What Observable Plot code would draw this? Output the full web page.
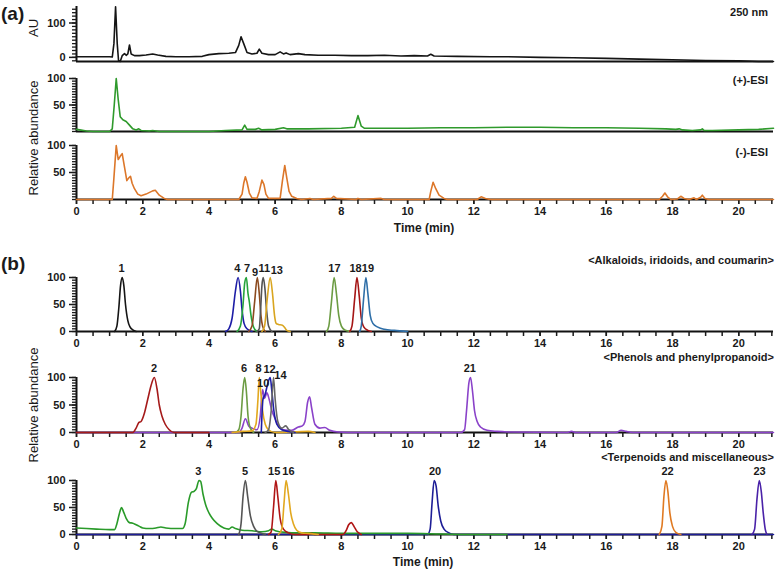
<!DOCTYPE html>
<html><head><meta charset="utf-8">
<script src="https://cdn.jsdelivr.net/npm/d3@7"></script>
<script src="https://cdn.jsdelivr.net/npm/@observablehq/plot@0.6"></script>
<style>
body{margin:0;background:#fff;}
#chart{position:relative;width:777px;height:570px;font-family:"Liberation Sans",Arial,sans-serif;color:#1a1a1a;overflow:hidden;}
#chart svg{position:absolute;left:0;}
.t{position:absolute;white-space:nowrap;line-height:1;}
</style></head><body><div id="chart"></div>
<script>
// ---------- data (time in min, intensity) ----------
const xTicks = [0,2,4,6,8,10,12,14,16,18,20];
const yTicksAU = [0,100];
const yTicksESI = [50,100];
const yTicksB = [0,50,100];

const uv250 = [[0,2],[0.5,2],[1.0,2],[1.08,1],[1.13,40],[1.18,147],[1.23,40],[1.27,-10],[1.32,-12],[1.38,5],[1.45,11],[1.5,6],[1.55,10],[1.6,36],[1.65,10],[1.75,5],[1.9,5],[2.1,7],[2.3,10],[2.45,7],[2.7,3],[3.0,2],[3.4,2],[3.8,3],[4.0,8],[4.3,11],[4.6,12],[4.8,14],[4.9,35],[4.97,60],[5.05,40],[5.15,14],[5.3,10],[5.45,12],[5.52,24],[5.6,12],[5.8,8],[6.0,8],[6.15,16],[6.25,10],[6.33,13],[6.45,8],[6.7,11],[6.9,8],[7.3,6],[7.8,6],[8.3,5],[8.8,5],[9.3,6],[9.8,4],[10.2,5],[10.6,4],[10.7,9],[10.8,4],[11.5,3],[12.5,2],[13,2],[14,0],[15,-1],[16,-3],[17,-5],[18,-7],[19,-9],[20,-10],[20.6,-12],[21.05,-12]];

const esiPos = [[0,4],[0.1,3],[0.3,1],[0.5,0],[1.0,0],[1.08,5],[1.14,50],[1.2,100],[1.26,60],[1.32,28],[1.4,22],[1.5,19],[1.6,12],[1.7,5],[1.8,3],[1.88,5],[1.95,2],[2.2,1],[2.3,2],[2.5,0],[4.0,0],[4.5,2],[5.0,3],[5.08,12],[5.15,4],[5.4,4],[5.5,6],[5.6,3],[6.0,4],[6.25,7],[6.35,5],[7,5],[8,6],[8.4,8],[8.5,30],[8.6,10],[8.7,6],[9,6],[10,6],[11,7],[12,7],[13,8],[14,8],[15,7],[16,7],[17,6],[17.8,5],[18.1,4],[18.2,5],[18.3,3],[18.6,2],[18.85,3],[18.9,5],[18.95,2],[19.2,2],[20,3],[20.6,4],[21.05,6]];

const esiNeg = [[0,0],[1.08,0],[1.13,40],[1.2,100],[1.26,74],[1.32,80],[1.38,85],[1.45,60],[1.52,35],[1.58,40],[1.63,43],[1.68,30],[1.75,20],[1.85,10],[1.95,7],[2.1,10],[2.3,16],[2.38,17],[2.5,8],[2.65,2],[2.75,0],[4.9,0],[5.0,10],[5.05,30],[5.1,42],[5.15,32],[5.22,12],[5.3,3],[5.45,2],[5.52,15],[5.6,36],[5.66,28],[5.72,10],[5.8,2],[6.15,2],[6.22,35],[6.29,63],[6.35,40],[6.42,15],[6.5,6],[6.65,2],[6.8,0],[7.05,2],[7.15,0],[7.7,2],[7.77,6],[7.85,2],[8.45,0],[8.5,2],[8.6,0],[9.2,2],[9.3,0],[10.65,0],[10.7,15],[10.77,32],[10.85,20],[10.95,8],[11.1,2],[11.2,0],[12.1,0],[12.22,5],[12.35,2],[12.5,0],[17.6,0],[17.7,6],[17.77,12],[17.85,5],[17.95,0],[18.15,1],[18.25,6],[18.35,2],[18.5,0],[18.65,3],[18.72,0],[18.85,4],[18.9,8],[18.98,2],[19.1,0],[21.05,0]];

// (b) Alkaloids, iridoids, and coumarin
const c1  = [[1.15,0],[1.22,10],[1.28,45],[1.33,85],[1.38,100],[1.43,85],[1.48,50],[1.55,20],[1.62,8],[1.7,3],[1.8,0]];
const c4  = [[4.5,0],[4.6,5],[4.7,25],[4.8,75],[4.88,100],[4.95,75],[5.0,40],[5.06,15],[5.15,5],[5.3,0]];
const c7  = [[4.85,0],[4.95,10],[5.03,50],[5.08,90],[5.13,100],[5.18,70],[5.22,55],[5.27,30],[5.35,8],[5.45,0]];
const c9  = [[5.2,0],[5.3,10],[5.38,55],[5.46,100],[5.52,70],[5.57,30],[5.62,10],[5.7,0]];
const c11 = [[5.45,0],[5.52,5],[5.56,40],[5.6,85],[5.64,100],[5.69,80],[5.74,40],[5.8,10],[5.9,0]];
const c13 = [[5.6,0],[5.68,10],[5.76,60],[5.85,100],[5.92,70],[5.98,30],[6.03,15],[6.1,13],[6.2,12],[6.28,8],[6.35,2],[6.45,0]];
const c17 = [[7.55,0],[7.62,10],[7.7,55],[7.78,100],[7.85,70],[7.92,30],[8.0,10],[8.1,3],[8.25,0]];
const c18 = [[8.25,0],[8.32,10],[8.4,60],[8.47,100],[8.54,65],[8.6,25],[8.68,8],[8.8,2],[8.9,0]];
const c19 = [[8.55,0],[8.6,10],[8.67,60],[8.74,100],[8.8,70],[8.87,30],[8.95,15],[9.1,8],[9.3,4],[9.6,2],[10,0]];

// (b) Phenols and phenylpropanoid
const c2  = [[0,0],[1.7,0],[1.8,8],[1.88,18],[1.95,20],[2.05,35],[2.15,60],[2.25,85],[2.35,100],[2.43,80],[2.5,50],[2.58,30],[2.68,15],[2.8,5],[2.95,0],[4,0]];
const c6  = [[4.8,0],[4.9,5],[4.97,30],[5.03,80],[5.08,100],[5.13,75],[5.18,30],[5.25,8],[5.35,0]];
const c8  = [[4.7,0],[5.0,2],[5.3,3],[5.42,15],[5.48,60],[5.52,100],[5.57,70],[5.62,40],[5.7,15],[5.8,5],[6,0],[7,2],[7.2,0]];
const c21 = [[0,0],[4.9,0],[5.0,8],[5.1,25],[5.2,12],[5.3,8],[5.45,5],[5.55,30],[5.62,78],[5.68,62],[5.75,72],[5.82,60],[5.9,40],[6.0,25],[6.1,12],[6.25,5],[6.5,4],[6.7,10],[6.82,12],[6.9,20],[6.98,55],[7.04,65],[7.1,45],[7.2,15],[7.35,8],[7.5,9],[7.65,4],[7.9,1],[8.5,0],[11.6,0],[11.72,5],[11.78,40],[11.85,90],[11.9,100],[11.96,75],[12.02,40],[12.1,20],[12.2,10],[12.4,4],[12.7,2],[13,1],[14.8,0],[14.95,2],[15.1,0],[16.3,0],[16.45,4],[16.6,2],[16.8,0],[21.05,0]];
const c12 = [[5.58,0],[5.6,30],[5.63,60],[5.7,70],[5.78,90],[5.85,100],[5.9,75],[5.96,40],[6.05,15],[6.2,5],[6.4,2],[6.6,0]];
const c14 = [[5.7,0],[5.8,5],[5.88,40],[5.95,100],[6.0,60],[6.08,20],[6.2,8],[6.32,12],[6.4,6],[6.55,0]];

// (b) Terpenoids and miscellaneous
const c3  = [[0,12],[0.3,11],[0.6,10],[1.0,9],[1.15,9],[1.22,20],[1.3,40],[1.36,50],[1.42,42],[1.5,30],[1.6,22],[1.7,21],[1.8,18],[1.9,15],[2.0,12],[2.2,11],[2.4,12],[2.55,14],[2.7,12],[3.0,11],[3.2,11],[3.28,20],[3.38,60],[3.47,78],[3.55,80],[3.62,85],[3.7,100],[3.75,98],[3.82,75],[3.9,55],[4.0,40],[4.1,30],[4.25,20],[4.45,12],[4.6,10],[4.7,14],[4.8,11],[5.0,8],[5.3,7],[5.6,5],[5.8,7],[5.9,10],[6.0,7],[6.3,4],[6.7,3],[7.2,3],[8,2],[9,2],[10,2],[11,1],[12,0],[13,0]];
const c5  = [[4.9,0],[4.97,20],[5.03,70],[5.1,100],[5.17,70],[5.25,35],[5.35,15],[5.45,6],[5.6,2],[5.7,0]];
const c15 = [[5.8,0],[5.88,5],[5.95,50],[6.02,100],[6.08,70],[6.15,30],[6.25,10],[6.4,3],[6.6,0],[7.0,0],[7.1,2],[7.2,0],[8.05,0],[8.15,8],[8.22,18],[8.3,22],[8.38,15],[8.48,5],[8.6,0]];
const c16 = [[6.1,0],[6.2,10],[6.27,60],[6.33,100],[6.4,75],[6.47,40],[6.55,20],[6.65,8],[6.8,3],[7.0,2],[7.3,0]];
const c20 = [[0,0],[10.6,0],[10.68,10],[10.74,60],[10.8,100],[10.86,90],[10.92,55],[11.0,25],[11.1,10],[11.25,3],[11.4,0],[21.05,0]];
const c22 = [[17.6,0],[17.68,15],[17.74,70],[17.8,100],[17.86,80],[17.92,40],[18.0,15],[18.1,4],[18.25,0]];
const c23 = [[20.4,0],[20.48,10],[20.55,65],[20.62,100],[20.68,80],[20.74,40],[20.8,10],[20.85,0]];

// peak labels: compound number, retention time, label level
const labelsAlk = [{id:"1",t:1.36,lv:100},{id:"4",t:4.86,lv:100},{id:"7",t:5.15,lv:100},{id:"9",t:5.39,lv:93},{id:"11",t:5.67,lv:100},{id:"13",t:6.05,lv:97},{id:"17",t:7.79,lv:100},{id:"18",t:8.43,lv:100},{id:"19",t:8.8,lv:100}];
const labelsPhe = [{id:"2",t:2.34,lv:100},{id:"6",t:5.06,lv:100},{id:"8",t:5.5,lv:100},{id:"10",t:5.64,lv:72},{id:"12",t:5.83,lv:99},{id:"14",t:6.16,lv:87},{id:"21",t:11.88,lv:100}];
const labelsTer = [{id:"3",t:3.68,lv:100},{id:"5",t:5.09,lv:100},{id:"15",t:5.97,lv:100},{id:"16",t:6.4,lv:100},{id:"20",t:10.83,lv:100},{id:"22",t:17.85,lv:100},{id:"23",t:20.63,lv:100}];

// ---------- styles ----------
const COL = {
  uv:"#151515", pos:"#2f9a2c", neg:"#dc772a",
  c1:"#151515", c4:"#1d1da6", c7:"#27a33c", c9:"#8c4a1e", c11:"#555555", c13:"#d9a51f", c17:"#6c9c43", c18:"#a51616", c19:"#2f6fa8",
  c2:"#a51a1a", c6:"#6c9c43", c8:"#e2a81f", c21:"#8a42c9", c12:"#1d1da6", c14:"#666666",
  c3:"#2a9b2a", c5:"#555555", c15:"#b01515", c16:"#e2a81f", c20:"#1d1d96", c22:"#e07a22", c23:"#4a22a8"
};
const TMAX = 21.05;
const FONT = '"Liberation Sans", Arial, sans-serif';
const chart = document.getElementById("chart");

function panel(cfg) {
  const {top, height, yTopPx, yZeroPx, yDomain, yTicks, yMinor, series, labels, xAxis, curve} = cfg;
  const marks = [
    Plot.ruleY([yDomain[0]], {stroke:"#111", strokeWidth:2}),
    Plot.ruleX([0], {y1: yDomain[0], y2: yDomain[1], stroke:"#111", strokeWidth:2}),
    Plot.axisY({ticks: yMinor, tickSize: 4, tickFormat: () => "", label: null, strokeWidth: 1.3}),
    Plot.axisY({ticks: yTicks, tickSize: 7, tickPadding: 4, label: null, strokeWidth: 1.5})
  ];
  if (xAxis) {
    marks.push(Plot.axisX({ticks: d3.range(0, 21.01, 0.5), tickSize: 5, tickFormat: () => "", label: null, strokeWidth: 1.5}));
    marks.push(Plot.axisX({ticks: xTicks, tickSize: 5, tickPadding: 3, label: null, strokeWidth: 1.5}));
  }
  for (const s of series) {
    marks.push(Plot.line(s.data, {x: d => d[0], y: d => d[1], stroke: s.color, strokeWidth: 1.6, curve: curve || "linear"}));
  }
  if (labels) {
    marks.push(Plot.text(labels, {x: "t", y: "lv", text: "id", dy: -9, fontSize: 11, fill: "#1a1a1a"}));
  }
  const svg = Plot.plot({
    width: 777, height,
    marginLeft: 76, marginRight: 4,
    marginTop: yTopPx - top, marginBottom: top + height - yZeroPx,
    x: xAxis ? {domain: [0, TMAX]} : {domain: [0, TMAX], axis: null},
    y: {domain: yDomain},
    marks,
    style: {fontFamily: FONT, fontSize: "11px", fontWeight: "bold", color: "#1a1a1a", background: "transparent", overflow: "visible"}
  });
  svg.style.top = top + "px";
  chart.appendChild(svg);
}

function text(str, x, y, o = {}) {
  const d = document.createElement("div");
  d.className = "t";
  d.textContent = str;
  d.style.fontSize = (o.size || 12) + "px";
  d.style.fontWeight = o.weight || "bold";
  if (o.anchor === "end") {
    d.style.right = (777 - x) + "px";
    d.style.top = y + "px";
    d.style.transform = "translateY(-50%)";
  } else if (o.anchor === "start") {
    d.style.left = x + "px";
    d.style.top = y + "px";
    d.style.transform = "translateY(-50%)";
  } else {
    d.style.left = x + "px";
    d.style.top = y + "px";
    d.style.transform = "translate(-50%,-50%)" + (o.rotate ? " rotate(-90deg)" : "");
  }
  chart.appendChild(d);
}

const minor10 = d3.range(-10, 141, 10);
const minor5 = d3.range(0, 100.1, 5);

// (a)
panel({top: 0, height: 66, yTopPx: 6, yZeroPx: 61, yDomain: [-12, 148], yTicks: yTicksAU, yMinor: minor10,
  series: [{data: uv250, color: COL.uv}]});
panel({top: 66, height: 70, yTopPx: 78, yZeroPx: 131, yDomain: [0, 100], yTicks: yTicksESI, yMinor: minor5,
  series: [{data: esiPos, color: COL.pos}]});
panel({top: 136, height: 100, yTopPx: 145, yZeroPx: 199, yDomain: [0, 100], yTicks: yTicksESI, yMinor: minor5,
  series: [{data: esiNeg, color: COL.neg}], xAxis: true});

// (b)
panel({top: 236, height: 115, yTopPx: 277, yZeroPx: 331, yDomain: [0, 100], yTicks: yTicksB, yMinor: minor5, curve: "monotone-x",
  series: [["c1",c1],["c4",c4],["c7",c7],["c9",c9],["c11",c11],["c13",c13],["c17",c17],["c18",c18],["c19",c19]].map(([k,d]) => ({data: d, color: COL[k]})),
  labels: labelsAlk, xAxis: true});
panel({top: 351, height: 100, yTopPx: 377, yZeroPx: 432, yDomain: [0, 100], yTicks: yTicksB, yMinor: minor5, curve: "monotone-x",
  series: [["c21",c21],["c2",c2],["c6",c6],["c8",c8],["c12",c12],["c14",c14]].map(([k,d]) => ({data: d, color: COL[k]})),
  labels: labelsPhe, xAxis: true});
panel({top: 451, height: 119, yTopPx: 480, yZeroPx: 534, yDomain: [0, 100], yTicks: yTicksB, yMinor: minor5, curve: "monotone-x",
  series: [["c20",c20],["c3",c3],["c5",c5],["c15",c15],["c16",c16],["c22",c22],["c23",c23]].map(([k,d]) => ({data: d, color: COL[k]})),
  labels: labelsTer, xAxis: true});

// texts
text("(a)", 1, 13, {anchor: "start", size: 19});
text("(b)", 1, 263, {anchor: "start", size: 19});
text("AU", 33, 28, {rotate: true, size: 13, weight: "normal"});
text("Relative abundance", 33, 138, {rotate: true, size: 13, weight: "normal"});
text("Relative abundance", 33, 405, {rotate: true, size: 13, weight: "normal"});
text("250 nm", 768, 12, {anchor: "end", size: 11});
text("(+)-ESI", 768, 80, {anchor: "end", size: 11});
text("(-)-ESI", 768, 152, {anchor: "end", size: 11});
text("Time (min)", 424, 228, {size: 12});
text("Time (min)", 423, 562, {size: 12});
text("<Alkaloids, iridoids, and coumarin>", 774, 260, {anchor: "end", size: 11});
text("<Phenols and phenylpropanoid>", 774, 357, {anchor: "end", size: 11});
text("<Terpenoids and miscellaneous>", 774, 457, {anchor: "end", size: 11});
</script></body></html>
